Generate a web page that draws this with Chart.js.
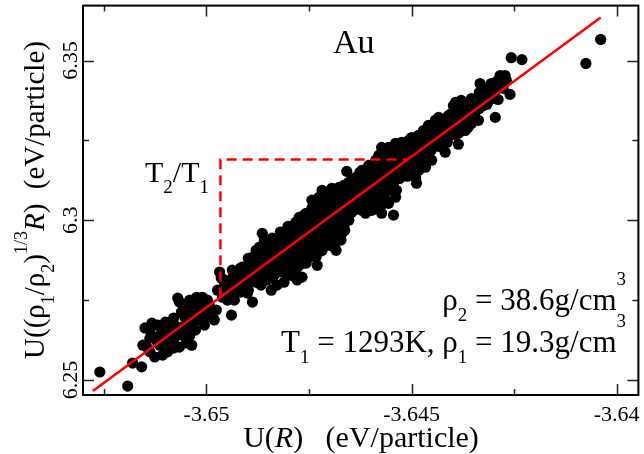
<!DOCTYPE html>
<html>
<head>
<meta charset="utf-8">
<script src="https://cdn.jsdelivr.net/npm/chart.js@4/dist/chart.umd.min.js"></script>
<style>
  html, body { margin: 0; padding: 0; background: #fff; }
  #wrap { width: 644px; height: 454px; position: relative; }
  .warm { position: absolute; left: -9999px; top: 0; font-size: 30px; }
</style>
</head>
<body>
<div id="wrap"><canvas id="c" width="644" height="454"></canvas></div>
<span class="warm" style="font-family:'Liberation Serif'">U(R) ρ 6.35</span>
<span class="warm" style="font-family:'Liberation Serif';font-style:italic">R</span>
<script>
// Sampled configurations: [U(R), U((rho1/rho2)^(1/3) R)] in eV/particle
const samples = [
  [-3.65260, 6.2525], [-3.65192, 6.2481], [-3.65180, 6.2553], [-3.65158, 6.2541], [-3.65150, 6.2663],
  [-3.65133, 6.2678], [-3.65155, 6.2609], [-3.65146, 6.2603], [-3.65121, 6.2634], [-3.65109, 6.2650],
  [-3.65126, 6.2572], [-3.65107, 6.2578], [-3.65095, 6.2588], [-3.65097, 6.2625], [-3.65085, 6.2634],
  [-3.65073, 6.2647], [-3.65070, 6.2756], [-3.65066, 6.2744], [-3.65066, 6.2603], [-3.65049, 6.2616],
  [-3.65036, 6.2609], [-3.65058, 6.2666], [-3.65046, 6.2678], [-3.65034, 6.2688], [-3.65049, 6.2719],
  [-3.65034, 6.2728], [-3.65022, 6.2741], [-3.65024, 6.2759], [-3.65010, 6.2759], [-3.64998, 6.2750],
  [-3.65017, 6.2697], [-3.65000, 6.2709], [-3.64988, 6.2719], [-3.64981, 6.2688], [-3.64976, 6.2719],
  [-3.65053, 6.2697], [-3.65078, 6.2672], [-3.65090, 6.2656], [-3.65114, 6.2609], [-3.65138, 6.2588],
  [-3.65027, 6.2656], [-3.65005, 6.2672], [-3.64993, 6.2734], [-3.65041, 6.2750],
  [-3.65138, 6.2656], [-3.65138, 6.2631], [-3.65119, 6.2672], [-3.65119, 6.2616], [-3.65100, 6.2681],
  [-3.65100, 6.2606], [-3.65080, 6.2694], [-3.65080, 6.2625], [-3.65080, 6.2600], [-3.65061, 6.2713],
  [-3.65061, 6.2641], [-3.65041, 6.2734], [-3.65041, 6.2709], [-3.65041, 6.2663], [-3.65041, 6.2638],
  [-3.65022, 6.2719], [-3.65022, 6.2688], [-3.65002, 6.2734], [-3.65002, 6.2694],

  [-3.64968, 6.2838], [-3.64964, 6.2819], [-3.64961, 6.2759], [-3.64951, 6.2781], [-3.64944, 6.2791],
  [-3.64939, 6.2703], [-3.64973, 6.2781], [-3.64956, 6.2803], [-3.64927, 6.2834], [-3.64920, 6.2813],
  [-3.64913, 6.2853], [-3.64903, 6.2822], [-3.64900, 6.2772], [-3.64896, 6.2869], [-3.64888, 6.2744],
  [-3.64888, 6.2884], [-3.64879, 6.2834], [-3.64879, 6.2853], [-3.64871, 6.2916], [-3.64864, 6.2959],
  [-3.64859, 6.2938], [-3.64854, 6.2844], [-3.64867, 6.2797], [-3.64852, 6.2813], [-3.64842, 6.2781],
  [-3.64847, 6.2875], [-3.64840, 6.2897], [-3.64835, 6.2828], [-3.64823, 6.2928], [-3.64823, 6.2853],
  [-3.64816, 6.2891], [-3.64811, 6.2806], [-3.64806, 6.2947], [-3.64806, 6.2866], [-3.64799, 6.2906],
  [-3.64791, 6.2969], [-3.64791, 6.2844], [-3.64784, 6.2881], [-3.64782, 6.2916], [-3.64779, 6.2813],
  [-3.64774, 6.3009], [-3.64774, 6.2953], [-3.64908, 6.2797], [-3.64932, 6.2750], [-3.64949, 6.2750],
  [-3.64925, 6.2781], [-3.64883, 6.2813], [-3.64828, 6.2797], [-3.64799, 6.2828], [-3.64774, 6.2859],
  [-3.64767, 6.2822], [-3.64891, 6.2844], [-3.64867, 6.2881], [-3.64847, 6.2913], [-3.64833, 6.2938],
  [-3.64813, 6.2963], [-3.64799, 6.2938], [-3.64786, 6.2825],
  [-3.64956, 6.2813], [-3.64956, 6.2788], [-3.64937, 6.2844], [-3.64937, 6.2819], [-3.64937, 6.2794],
  [-3.64937, 6.2769], [-3.64917, 6.2850], [-3.64917, 6.2825], [-3.64917, 6.2800], [-3.64917, 6.2775],
  [-3.64898, 6.2881], [-3.64898, 6.2856], [-3.64898, 6.2831], [-3.64898, 6.2806], [-3.64898, 6.2781],
  [-3.64879, 6.2906], [-3.64879, 6.2881], [-3.64879, 6.2856], [-3.64879, 6.2831], [-3.64879, 6.2806],
  [-3.64859, 6.2922], [-3.64859, 6.2897], [-3.64859, 6.2872], [-3.64859, 6.2847], [-3.64859, 6.2822],
  [-3.64840, 6.2944], [-3.64840, 6.2919], [-3.64840, 6.2894], [-3.64840, 6.2869], [-3.64840, 6.2844],
  [-3.64840, 6.2819], [-3.64820, 6.2963], [-3.64820, 6.2938], [-3.64820, 6.2913], [-3.64820, 6.2888],
  [-3.64820, 6.2863], [-3.64820, 6.2838], [-3.64801, 6.2981], [-3.64801, 6.2956], [-3.64801, 6.2931],
  [-3.64801, 6.2906], [-3.64801, 6.2881], [-3.64801, 6.2856], [-3.64801, 6.2831], [-3.64782, 6.2994],
  [-3.64782, 6.2969], [-3.64782, 6.2944], [-3.64782, 6.2919], [-3.64782, 6.2894], [-3.64782, 6.2869],
  [-3.64782, 6.2844],

  [-3.64767, 6.2978], [-3.64757, 6.3022], [-3.64750, 6.3000], [-3.64743, 6.3063], [-3.64743, 6.2978],
  [-3.64743, 6.2938], [-3.64757, 6.2928], [-3.64757, 6.2866], [-3.64733, 6.2884], [-3.64726, 6.3072],
  [-3.64726, 6.3009], [-3.64718, 6.3094], [-3.64718, 6.3000], [-3.64718, 6.2906], [-3.64709, 6.3088],
  [-3.64709, 6.2938], [-3.64701, 6.3022], [-3.64694, 6.3100], [-3.64689, 6.2916], [-3.64684, 6.3031],
  [-3.64684, 6.2947], [-3.64684, 6.2906], [-3.64677, 6.3103], [-3.64670, 6.3009], [-3.64670, 6.2959],
  [-3.64658, 6.3153], [-3.64653, 6.3119], [-3.64653, 6.3000], [-3.64646, 6.3072], [-3.64648, 6.3025],
  [-3.64636, 6.3134], [-3.64629, 6.3094], [-3.64629, 6.3041], [-3.64621, 6.3156], [-3.64621, 6.3031],
  [-3.64612, 6.3103], [-3.64612, 6.3053], [-3.64612, 6.3022], [-3.64604, 6.3172], [-3.64604, 6.3041],
  [-3.64597, 6.3125], [-3.64597, 6.3063], [-3.64597, 6.3031], [-3.64587, 6.3188], [-3.64580, 6.3072],
  [-3.64575, 6.3047], [-3.64573, 6.3147], [-3.64573, 6.3022],
  [-3.64750, 6.2953], [-3.64730, 6.2969], [-3.64714, 6.2975], [-3.64701, 6.2984], [-3.64738, 6.2913],
  [-3.64721, 6.2938], [-3.64701, 6.2953], [-3.64689, 6.2984], [-3.64677, 6.3016], [-3.64665, 6.3047],
  [-3.64653, 6.3063], [-3.64641, 6.3078], [-3.64665, 6.2984], [-3.64641, 6.3031], [-3.64629, 6.3069],
  [-3.64617, 6.3078], [-3.64604, 6.3109], [-3.64592, 6.3094], [-3.64677, 6.3063], [-3.64665, 6.3094],
  [-3.64641, 6.3109], [-3.64629, 6.3125], [-3.64617, 6.3141], [-3.64592, 6.3141], [-3.64580, 6.3109],
  [-3.64568, 6.3094], [-3.64701, 6.2922], [-3.64730, 6.2859], [-3.64745, 6.2900], [-3.64769, 6.2906],
  [-3.64682, 6.2975], [-3.64663, 6.2969], [-3.64672, 6.2938], [-3.64752, 6.2884],
  [-3.64762, 6.3016], [-3.64762, 6.2991], [-3.64762, 6.2966], [-3.64762, 6.2941], [-3.64762, 6.2916],
  [-3.64762, 6.2891], [-3.64762, 6.2866], [-3.64743, 6.3038], [-3.64743, 6.3013], [-3.64743, 6.2988],
  [-3.64743, 6.2963], [-3.64743, 6.2913], [-3.64723, 6.3053], [-3.64723, 6.3028], [-3.64723, 6.3003],
  [-3.64723, 6.2978], [-3.64723, 6.2953], [-3.64723, 6.2928], [-3.64723, 6.2903], [-3.64704, 6.3069],
  [-3.64704, 6.3044], [-3.64704, 6.3019], [-3.64704, 6.2994], [-3.64704, 6.2969], [-3.64704, 6.2944],
  [-3.64684, 6.3084], [-3.64684, 6.3059], [-3.64684, 6.3034], [-3.64684, 6.3009], [-3.64684, 6.2984],
  [-3.64684, 6.2959], [-3.64684, 6.2934], [-3.64665, 6.3109], [-3.64665, 6.3084], [-3.64665, 6.3059],
  [-3.64665, 6.3034], [-3.64665, 6.3009], [-3.64646, 6.3125], [-3.64646, 6.3100], [-3.64646, 6.3075],
  [-3.64646, 6.3050], [-3.64646, 6.3025], [-3.64626, 6.3150], [-3.64626, 6.3125], [-3.64626, 6.3100],
  [-3.64626, 6.3075], [-3.64626, 6.3050], [-3.64607, 6.3163], [-3.64607, 6.3138], [-3.64607, 6.3113],
  [-3.64607, 6.3088], [-3.64607, 6.3063], [-3.64587, 6.3178], [-3.64587, 6.3153], [-3.64587, 6.3128],
  [-3.64587, 6.3103], [-3.64587, 6.3078], [-3.64587, 6.3053],

  [-3.64563, 6.3219], [-3.64573, 6.3228], [-3.64556, 6.3228], [-3.64539, 6.3241], [-3.64524, 6.3244],
  [-3.64507, 6.3250], [-3.64500, 6.3259], [-3.64532, 6.3188], [-3.64515, 6.3197], [-3.64507, 6.3178],
  [-3.64515, 6.3156], [-3.64532, 6.3166], [-3.64488, 6.3116], [-3.64490, 6.3134], [-3.64483, 6.3156],
  [-3.64466, 6.3166], [-3.64451, 6.3188], [-3.64466, 6.3209], [-3.64459, 6.3228], [-3.64442, 6.3241],
  [-3.64434, 6.3250], [-3.64451, 6.3272], [-3.64466, 6.3250], [-3.64434, 6.3291], [-3.64442, 6.3313],
  [-3.64434, 6.3322], [-3.64418, 6.3313], [-3.64410, 6.3328], [-3.64403, 6.3334], [-3.64393, 6.3338],
  [-3.64418, 6.3213], [-3.64386, 6.3238], [-3.64386, 6.3272], [-3.64369, 6.3281], [-3.64362, 6.3291],
  [-3.64354, 6.3303],
  [-3.64568, 6.3172], [-3.64556, 6.3141], [-3.64544, 6.3156], [-3.64551, 6.3188], [-3.64532, 6.3219],
  [-3.64519, 6.3219], [-3.64495, 6.3219], [-3.64483, 6.3234], [-3.64495, 6.3188], [-3.64478, 6.3194],
  [-3.64471, 6.3281], [-3.64483, 6.3266], [-3.64459, 6.3297], [-3.64447, 6.3288], [-3.64422, 6.3281],
  [-3.64410, 6.3297], [-3.64398, 6.3297], [-3.64422, 6.3250], [-3.64405, 6.3266], [-3.64561, 6.3109],
  [-3.64580, 6.3163], [-3.64580, 6.3203], [-3.64544, 6.3116], [-3.64537, 6.3094], [-3.64539, 6.3072],
  [-3.64556, 6.3053], [-3.64544, 6.3016], [-3.64563, 6.3063], [-3.64507, 6.3219],
  [-3.64568, 6.3203], [-3.64568, 6.3178], [-3.64568, 6.3153], [-3.64568, 6.3128], [-3.64568, 6.3078],
  [-3.64568, 6.3053], [-3.64549, 6.3219], [-3.64549, 6.3194], [-3.64549, 6.3169], [-3.64549, 6.3144],
  [-3.64549, 6.3119], [-3.64549, 6.3094], [-3.64529, 6.3231], [-3.64529, 6.3206], [-3.64529, 6.3181],
  [-3.64529, 6.3156], [-3.64529, 6.3131], [-3.64510, 6.3238], [-3.64510, 6.3213], [-3.64510, 6.3188],
  [-3.64510, 6.3163], [-3.64510, 6.3138], [-3.64490, 6.3256], [-3.64490, 6.3231], [-3.64490, 6.3206],
  [-3.64490, 6.3181], [-3.64490, 6.3156], [-3.64471, 6.3272], [-3.64471, 6.3247], [-3.64471, 6.3222],
  [-3.64471, 6.3197], [-3.64452, 6.3294], [-3.64452, 6.3269], [-3.64452, 6.3244], [-3.64452, 6.3219],
  [-3.64432, 6.3306], [-3.64432, 6.3281], [-3.64432, 6.3256], [-3.64432, 6.3231], [-3.64413, 6.3319],
  [-3.64413, 6.3294], [-3.64413, 6.3269], [-3.64413, 6.3244],

  [-3.64393, 6.3369], [-3.64379, 6.3375], [-3.64362, 6.3366], [-3.64350, 6.3356], [-3.64369, 6.3313],
  [-3.64362, 6.3322], [-3.64354, 6.3328], [-3.64345, 6.3375], [-3.64333, 6.3384], [-3.64320, 6.3397],
  [-3.64308, 6.3413], [-3.64296, 6.3422], [-3.64333, 6.3428], [-3.64313, 6.3416], [-3.64306, 6.3428],
  [-3.64289, 6.3438], [-3.64277, 6.3447], [-3.64269, 6.3438], [-3.64284, 6.3453], [-3.64272, 6.3453],
  [-3.64289, 6.3378], [-3.64296, 6.3322], [-3.64260, 6.3394], [-3.64257, 6.3509], [-3.64231, 6.3503],
  [-3.64342, 6.3344], [-3.64325, 6.3359], [-3.64313, 6.3375], [-3.64301, 6.3391], [-3.64337, 6.3313],
  [-3.64374, 6.3344], [-3.64386, 6.3319], [-3.64398, 6.3359], [-3.64369, 6.3291],
  [-3.64393, 6.3344], [-3.64393, 6.3319], [-3.64393, 6.3294], [-3.64393, 6.3269], [-3.64374, 6.3363],
  [-3.64374, 6.3338], [-3.64374, 6.3313], [-3.64374, 6.3288], [-3.64354, 6.3381], [-3.64354, 6.3356],
  [-3.64354, 6.3331], [-3.64335, 6.3400], [-3.64335, 6.3375], [-3.64335, 6.3350], [-3.64316, 6.3413],
  [-3.64316, 6.3388], [-3.64316, 6.3363], [-3.64296, 6.3431], [-3.64296, 6.3406], [-3.64296, 6.3381],
  [-3.64277, 6.3438], [-3.64277, 6.3413],

  [-3.64075, 6.3491], [-3.64039, 6.3566]
];

// Linear fit through the cloud (its slope gives T2/T1)
const fitX = [-3.65277, -3.64039];
const fitY = [6.24656, 6.36344];

// Slope guide: vertical and horizontal legs of the triangle
const guideX = [-3.64966, -3.64966, -3.64509];
const guideY = [6.27592, 6.31906, 6.31906];

// Axis ticks
const xMajor = [-3.65, -3.645, -3.64];
const xMinor = [-3.6525, -3.6475, -3.6425];
const xLabels = ['-3.65', '-3.645', '-3.64'];
const yMajor = [6.25, 6.3, 6.35];
const yMinor = [6.275, 6.325];
const yLabels = ['6.25', '6.3', '6.35'];

const SERIF = '"Liberation Serif", serif';

// Draws a run of text pieces; kind: '' normal, 'sub', 'sup', 'it'
function richText(ctx, pieces, x, y, align, size, supRaise) {
  const small = Math.round(size * 0.62);
  const fontOf = k => (k === 'sub' || k === 'sup') ? small + 'px ' + SERIF
                    : (k === 'it' ? 'italic ' : '') + size + 'px ' + SERIF;
  let total = 0;
  const widths = pieces.map(([t, k]) => { ctx.font = fontOf(k); const w = ctx.measureText(t).width; total += w; return w; });
  let cx = align === 'right' ? x - total : align === 'center' ? x - total / 2 : x;
  ctx.textAlign = 'left';
  ctx.textBaseline = 'alphabetic';
  pieces.forEach(([t, k], i) => {
    ctx.font = fontOf(k);
    let dy = 0;
    if (k === 'sub') dy = size * 0.36;
    if (k === 'sup') dy = -size * (supRaise || 0.62);
    ctx.fillText(t, cx, y + dy);
    cx += widths[i];
  });
}

const framePlugin = {
  id: 'frame',
  afterDraw(chart) {
    const { ctx, chartArea: a, scales: { x, y } } = chart;
    ctx.save();
    // inward ticks on all four sides
    ctx.strokeStyle = '#222';
    ctx.lineWidth = 1.5;
    ctx.beginPath();
    const tickX = (v, len) => {
      const px = Math.round(x.getPixelForValue(v)) + 0.5;
      ctx.moveTo(px, a.bottom); ctx.lineTo(px, a.bottom - len);
      ctx.moveTo(px, a.top); ctx.lineTo(px, a.top + len);
    };
    const tickY = (v, len) => {
      const py = Math.round(y.getPixelForValue(v)) + 0.5;
      ctx.moveTo(a.left, py); ctx.lineTo(a.left + len, py);
      ctx.moveTo(a.right, py); ctx.lineTo(a.right - len, py);
    };
    xMajor.forEach(v => tickX(v, 11));
    xMinor.forEach(v => tickX(v, 6));
    yMajor.forEach(v => tickY(v, 11));
    yMinor.forEach(v => tickY(v, 6));
    ctx.stroke();

    // frame
    ctx.strokeStyle = '#000';
    ctx.lineWidth = 2;
    ctx.strokeRect(a.left, a.top, a.right - a.left, a.bottom - a.top);

    ctx.fillStyle = '#000';
    // x tick labels
    ctx.font = '22px ' + SERIF;
    ctx.textAlign = 'center';
    ctx.textBaseline = 'alphabetic';
    xMajor.forEach((v, i) => ctx.fillText(xLabels[i], x.getPixelForValue(v), 421));
    // y tick labels, rotated
    yMajor.forEach((v, i) => {
      ctx.save();
      ctx.translate(77, y.getPixelForValue(v));
      ctx.rotate(-Math.PI / 2);
      ctx.font = '22px ' + SERIF;
      ctx.textAlign = 'center';
      ctx.fillText(yLabels[i], 0, 0);
      ctx.restore();
    });

    // axis titles
    richText(ctx, [['U(', ''], ['R', 'it'], [')   (eV/particle)', '']], 361, 447, 'center', 30);
    ctx.save();
    ctx.translate(44, 200);
    ctx.rotate(-Math.PI / 2);
    richText(ctx, [['U((ρ', ''], ['1', 'sub'], ['/ρ', ''], ['2', 'sub'], [')', ''], ['1/3', 'sup'],
                   ['R', 'it'], [')  (eV/particle)', '']], 0, 0, 'center', 29, 0.6);
    ctx.restore();

    // annotations
    richText(ctx, [['Au', '']], 333, 53, 'left', 34);
    richText(ctx, [['T', ''], ['2', 'sub'], ['/T', ''], ['1', 'sub']], 145, 182, 'left', 30);
    richText(ctx, [['ρ', ''], ['2', 'sub'], [' = 38.6g/cm', ''], ['3', 'sup']], 626, 310, 'right', 31, 0.8);
    richText(ctx, [['T', ''], ['1', 'sub'], [' = 1293K, ρ', ''], ['1', 'sub'], [' = 19.3g/cm', ''], ['3', 'sup']], 626, 352, 'right', 31, 0.8);
    ctx.restore();
  }
};

const chart = new Chart(document.getElementById('c'), {
  type: 'scatter',
  data: {
    datasets: [
      {
        data: samples.map(([u, v]) => ({ x: u, y: v })),
        pointRadius: 5.6,
        pointBackgroundColor: '#000',
        pointBorderWidth: 0,
        showLine: false,
        order: 3
      },
      {
        data: guideX.map((u, i) => ({ x: u, y: guideY[i] })),
        showLine: true,
        borderColor: '#ff0000',
        borderWidth: 2.5,
        borderDash: [10, 6],
        pointRadius: 0,
        order: 2
      },
      {
        data: fitX.map((u, i) => ({ x: u, y: fitY[i] })),
        showLine: true,
        borderColor: '#ff0000',
        borderWidth: 2.5,
        pointRadius: 0,
        order: 1
      }
    ]
  },
  options: {
    responsive: false,
    animation: false,
    devicePixelRatio: 1,
    layout: { padding: { top: 5, right: 3, left: 0, bottom: 0 } },
    plugins: { legend: { display: false }, tooltip: { enabled: false } },
    scales: {
      x: {
        type: 'linear', min: -3.65301, max: -3.63947,
        ticks: { display: false }, grid: { display: false }, border: { display: false },
        afterFit(s) { s.height = 59; }
      },
      y: {
        type: 'linear', min: 6.2453, max: 6.3672,
        ticks: { display: false }, grid: { display: false }, border: { display: false },
        afterFit(s) { s.width = 83; }
      }
    }
  },
  plugins: [framePlugin]
});

// repaint once the serif face is ready so the labels pick it up
[80, 250, 600].forEach(t => setTimeout(() => chart.draw(), t));
if (document.fonts && document.fonts.ready) document.fonts.ready.then(() => chart.draw());
</script>
</body>
</html>
